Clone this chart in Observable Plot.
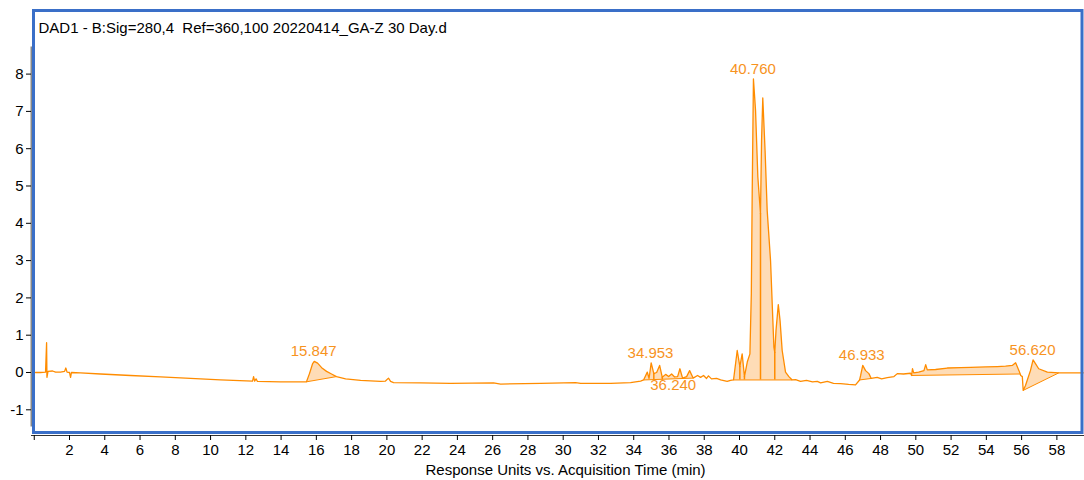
<!DOCTYPE html>
<html><head><meta charset="utf-8">
<script src="https://cdn.jsdelivr.net/npm/d3@7"></script>
<script src="https://cdn.jsdelivr.net/npm/@observablehq/plot@0.6"></script>
<style>
html,body{margin:0;padding:0;background:#fff;}
#chart{width:1084px;height:480px;}
svg text{white-space:pre;}
</style></head><body><div id="chart"></div>
<script>
// Acquisition time (min) and detector response
const time = [0.07,0.35,0.64,0.70,0.72,0.78,1.04,1.21,1.49,1.72,1.79,1.86,2.00,2.06,2.11,2.62,3.76,5.46,7.16,8.86,10.56,12.38,12.44,12.50,12.58,12.66,13.97,15.10,
15.44,15.61,15.79,15.88,16.07,16.30,16.58,16.86,17.14,17.66,18.51,19.64,19.92,20.09,20.21,20.38,21.91,23.61,26.05,26.45,28.72,30.70,30.99,32.69,33.82,34.39,
34.56,34.77,34.87,34.99,35.14,35.30,35.47,35.62,35.81,35.98,36.15,36.32,36.49,36.62,36.77,37.00,37.17,37.37,37.62,37.79,37.96,38.13,38.24,38.41,38.70,38.93,39.30,39.49,
39.66,39.87,40.02,40.15,40.28,40.44,40.59,40.67,40.72,40.79,40.91,41.04,41.19,41.25,41.32,41.45,41.57,41.76,41.95,42.00,42.07,42.20,42.30,42.42,42.61,42.80,42.99,
43.18,43.46,43.80,44.14,44.41,44.60,44.98,45.33,45.73,46.19,46.58,46.81,46.87,46.99,47.15,47.34,47.47,47.81,48.06,48.38,48.76,48.95,49.30,49.70,
49.76,49.81,49.88,50.16,50.46,50.56,50.65,51.12,51.78,52.54,53.11,53.96,54.62,55.09,55.47,55.66,55.85,55.92,55.95,56.04,
56.09,56.22,56.50,56.65,56.97,57.46,58.11,58.78,59.50];
const signal = [0.00,0.00,0.01,0.80,-0.13,0.03,0.04,0.01,0.01,0.03,0.12,0.01,0.00,-0.13,0.00,-0.01,-0.04,-0.08,-0.12,-0.16,-0.20,-0.23,-0.11,-0.23,-0.17,-0.24,-0.25,-0.25,
-0.25,-0.03,0.24,0.30,0.25,0.13,0.03,-0.04,-0.11,-0.17,-0.21,-0.24,-0.23,-0.15,-0.24,-0.27,-0.28,-0.29,-0.28,-0.31,-0.29,-0.27,-0.29,-0.29,-0.27,-0.23,
-0.20,0.01,-0.16,0.26,-0.03,0.00,0.19,-0.13,-0.05,-0.11,-0.04,-0.12,-0.11,0.10,-0.15,-0.11,0.05,-0.15,-0.08,-0.13,-0.08,-0.16,-0.09,-0.17,-0.16,-0.20,-0.24,-0.21,
-0.20,0.59,0.16,0.50,-0.11,0.28,0.50,2.12,4.80,7.87,7.02,5.24,4.26,6.22,7.36,5.95,4.34,3.00,0.68,0.54,1.13,1.82,1.39,0.59,0.01,-0.11,-0.20,
-0.19,-0.24,-0.21,-0.25,-0.24,-0.28,-0.24,-0.29,-0.30,-0.32,-0.33,-0.20,-0.08,0.19,0.05,-0.03,-0.16,-0.13,-0.17,-0.14,-0.11,-0.03,-0.04,-0.02,
-0.08,0.10,-0.01,0.01,0.05,0.21,0.07,0.08,0.12,0.13,0.14,0.15,0.16,0.17,0.19,0.26,0.05,-0.04,-0.08,-0.11,
-0.48,-0.35,0.05,0.34,0.10,0.01,-0.01,-0.01,-0.01];
// Integrated peak regions [start, end] (min)
const fillRanges = [[15.44,17.14],[34.56,37.37],[39.66,42.99],[46.81,47.47],[49.76,55.92],[56.09,58.11]];
// Peak split drop lines (min)
const dropTimes = [35.14,35.62,40.02,40.28,41.19,42.00];
// Labelled retention times
const peakLabels = ["15.847","34.953","36.240","40.760","46.933","56.620"];
const labelsBelow = ["36.240"];
const xTicks = d3.range(0, 60, 2);
const yTicks = d3.range(-1, 9);
const title = "DAD1 - B:Sig=280,4  Ref=360,100 20220414_GA-Z 30 Day.d";
const xLabel = "Response Units vs. Acquisition Time (min)";

const orange = "#ff8c00";
const labelColor = "#f7931e";
const fillColor = "#fedcb6";

const trace = time.map((t, i) => ({t, v: signal[i]}));
const segs = fillRanges.map(([a, b], k) => trace.filter(d => d.t >= a - 1e-9 && d.t <= b + 1e-9).map(d => ({...d, k})));
const fillPts = segs.flat();
const baseLinks = segs.map(s => ({t1: s[0].t, v1: s[0].v, t2: s[s.length-1].t, v2: s[s.length-1].v}));
const drops = dropTimes.map(t => {
  const p = trace.find(d => Math.abs(d.t - t) < 1e-9);
  const s = segs.find(s => t >= s[0].t && t <= s[s.length-1].t);
  return {t, v: p.v, base: s[0].v};
});
const labels = peakLabels.map(s => {
  const pt = +s;
  const near = trace.filter(d => Math.abs(d.t - pt) <= 0.2);
  return {t: pt, v: d3.max(near, d => d.v), s};
});

const chart = Plot.plot({
  width: 1084, height: 480,
  marginLeft: 31, marginRight: 1, marginTop: 47, marginBottom: 45,
  x: {domain: [-0.156, 59.51]},
  y: {domain: [-1.689, 8.713]},
  style: {fontFamily: "'Liberation Sans', Arial, sans-serif", fontSize: "15px", color: "#000", background: "#fff"},
  marks: [
    Plot.line(fillPts, {x: "t", y: "v", z: "k", fill: fillColor, stroke: "none"}),
    Plot.link(baseLinks, {x1: "t1", y1: "v1", x2: "t2", y2: "v2", stroke: orange, strokeWidth: 1}),
    Plot.ruleX(drops, {x: "t", y1: "base", y2: "v", stroke: orange, strokeWidth: 1.5}),
    Plot.line(trace, {x: "t", y: "v", stroke: orange, strokeWidth: 1.3}),
    Plot.text(labels.filter(d => !labelsBelow.includes(d.s)), {x: "t", y: "v", text: "s", dy: -10, fill: labelColor, fontSize: 15}),
    Plot.text(labels.filter(d => labelsBelow.includes(d.s)), {x: "t", y: "v", text: "s", dy: 11, fill: labelColor, fontSize: 15}),
    Plot.frame({anchor: "left", stroke: "#888", strokeWidth: 2, insetBottom: 10}),
    Plot.frame({anchor: "bottom", stroke: "#333"}),
    Plot.axisY({ticks: yTicks, tickFormat: d => String(d), tickSize: 5, tickPadding: 3, label: null}),
    Plot.axisX({ticks: xTicks, tickFormat: d => d === 0 ? "" : String(d), tickSize: 5, tickPadding: 4, label: null}),
    Plot.frame({stroke: "#3a6fc8", strokeWidth: 3, insetLeft: 2, insetRight: 1.5, insetTop: -37, insetBottom: 3}),
    Plot.text([title], {frameAnchor: "top-left", lineAnchor: "middle", dx: 7, dy: -19, textAnchor: "start", fontSize: 15, fill: "#000"}),
    Plot.text([xLabel], {frameAnchor: "bottom", lineAnchor: "middle", dx: 8, dy: 35, fontSize: 15, fill: "#000"})
  ]
});
document.getElementById("chart").appendChild(chart);
</script></body></html>
